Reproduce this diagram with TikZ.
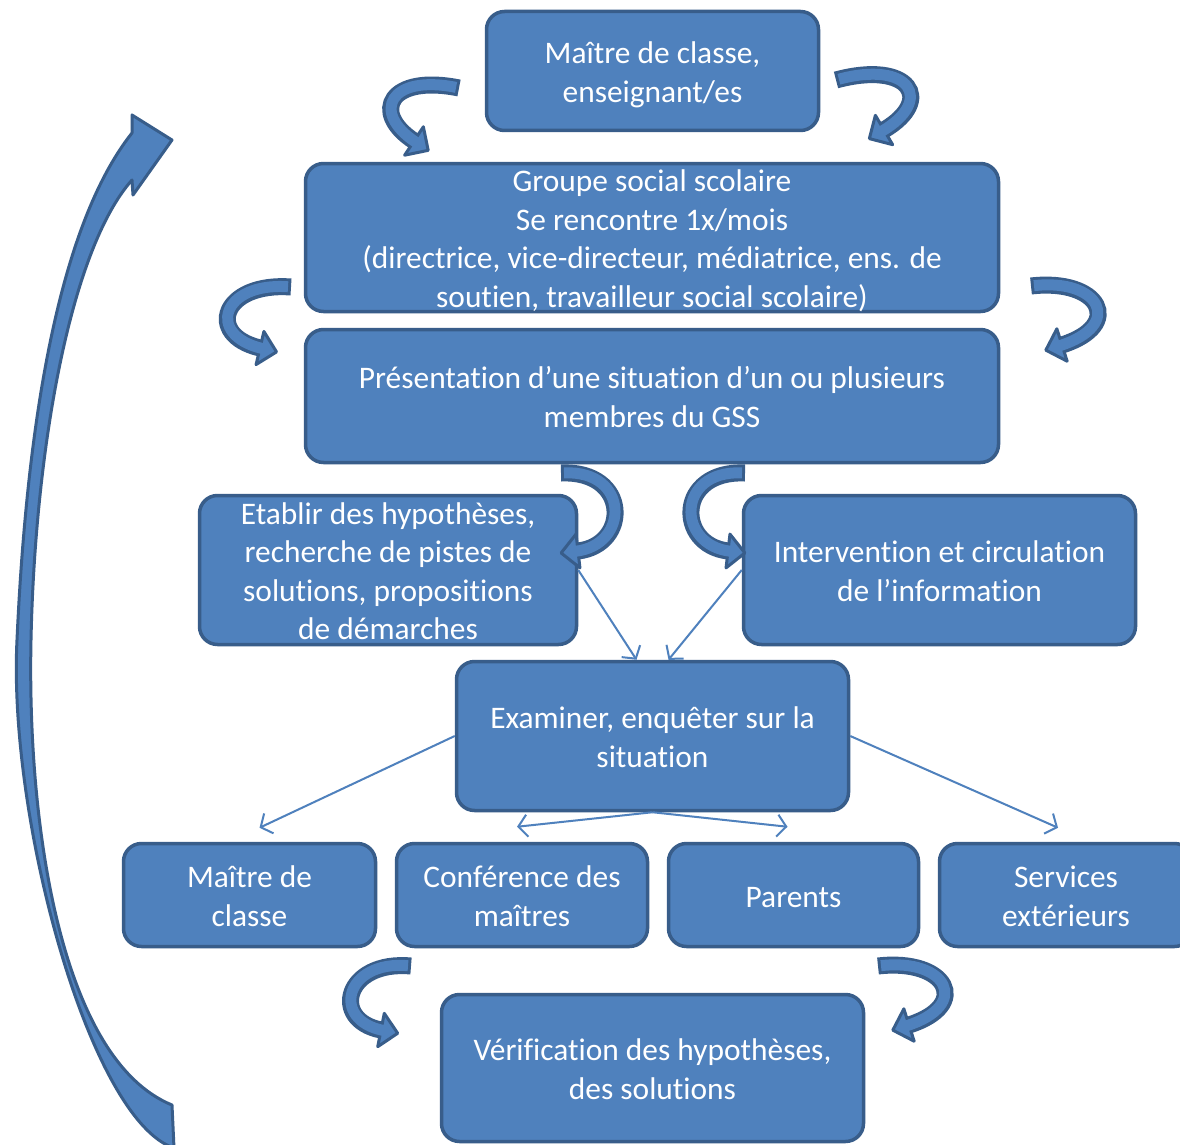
\documentclass[tikz,border=0pt]{standalone}
\usepackage{fontspec}
\setmainfont{Carlito}[Ligatures=NoCommon]
\usetikzlibrary{calc,arrows.meta}
\definecolor{mid}{HTML}{4F81BD}
\definecolor{bdr}{HTML}{385D8A}
\newcommand\nlti{t\kern0pt i}
\newcommand\nlfi{f\kern0pt i}
\newcommand\boxtop{\rule{0pt}{33pt}}
\newcommand\boxbot{\rule[-9pt]{0pt}{0pt}}
\newcommand\carrow[4]{%
  \draw[bdr, line width=17pt] (#1) .. controls (#2) and (#3) .. (#4);
  \filldraw[fill=mid, draw=bdr, line width=3pt, line join=round]
    ($(#4)!17pt!90:(#3)$) -- ($(#4)!-17pt!(#3)$) -- ($(#4)!17pt!-90:(#3)$) -- cycle;
  \draw[mid, line width=11pt, shorten <=3pt, shorten >=-2.5pt] (#1) .. controls (#2) and (#3) .. (#4);
}
\begin{document}
\begin{tikzpicture}[x=1pt,y=-1pt,
  box/.style={rectangle, rounded corners=18pt, draw=bdr, fill=mid, line width=3.5pt,
    text=white, align=center, inner xsep=0pt, inner ysep=-10pt, font=\fontsize{31.4pt}{38.5pt}\selectfont},
  conn/.style={draw=mid, line width=2pt, -{Straight Barb[length=9pt,width=22pt]}}]
\useasboundingbox (0,0) rectangle (1180,1145);
\fill[white] (0,0) rectangle (1180,1145);

\node[box, minimum width=332pt, minimum height=119pt] (mtop) at (652.5,71) {\boxtop Maître de classe,\\enseignant/es\boxbot};
\node[box, minimum width=693pt, minimum height=148pt] (gss) at (652,237.5) {\boxtop Groupe social scolaire\\Se rencontre 1x/mois\\(directrice, vice-directeur, médiatrice, ens. de\\sou\nlti en, travailleur social scolaire)\boxbot};
\node[box, minimum width=693pt, minimum height=133pt] (pres) at (652,396) {\boxtop Présenta\nlti on d’une situa\nlti on d’un ou plusieurs\\membres du GSS\boxbot};
\node[box, minimum width=377pt, minimum height=149pt] (etab) at (388,570) {\boxtop Etablir des hypothèses,\\recherche de pistes de\\solu\nlti ons, proposi\nlti ons\\de démarches\boxbot};
\node[box, minimum width=392pt, minimum height=149pt] (inter) at (939.5,570) {\boxtop Interven\nlti on et circula\nlti on\\de l’informa\nlti on\boxbot};
\node[box, minimum width=392pt, minimum height=149pt] (exam) at (652.5,736) {\boxtop Examiner, enquêter sur la\\situa\nlti on\boxbot};
\node[box, minimum width=252pt, minimum height=103pt] (mc) at (249.5,895) {\boxtop Maître de\\classe\boxbot};
\node[box, minimum width=251pt, minimum height=103pt] (conf) at (522,895) {\boxtop Conférence des\\maîtres\boxbot};
\node[box, minimum width=250pt, minimum height=103pt] (par) at (793.5,895) {\boxtop Parents\boxbot};
\node[box, minimum width=253pt, minimum height=103pt] (serv) at (1066,895) {\boxtop Services\\extérieurs\boxbot};
\node[box, minimum width=422pt, minimum height=147pt] (verif) at (652.5,1068) {\boxtop Véri\nlfi ca\nlti on des hypothèses,\\des solu\nlti ons\boxbot};

% straight connectors
\draw[conn] (etab.east) -- ($(exam.north)+(-16,0)$);
\draw[conn] (inter.west) -- ($(exam.north)+(16,0)$);
\draw[conn] (exam.west) -- ($(mc.north)+(10,-14)$);
\draw[conn] (exam.east) -- ($(serv.north)+(-8,-14)$);
\draw[conn] (exam.south) -- ($(conf.north)+(-5,-15)$);
\draw[conn] (exam.south) -- ($(par.north)+(-6,-15)$);

% curved arrows
\carrow{459,88}{390,74}{370,112}{414,141}
\carrow{836,80}{910,60}{935,100}{884,130}
\carrow{291,287}{222,282}{205,335}{260,348}
\carrow{1031,286}{1100,278}{1125,325}{1062,345}
\carrow{561,473}{630,470}{630,545}{578,551}
\carrow{745,473}{676,470}{676,545}{728,551}
\carrow{411,966}{345,960}{330,1020}{381,1030}
\carrow{878,966}{947,958}{972,1005}{909,1025}

% big return arrow
\filldraw[fill=mid, draw=bdr, line width=3pt, line join=round]
 (172,1105) -- (174,1148) .. controls (90,1120) and (8,820) .. (17,640)
 .. controls (26,440) and (55,230) .. (132,133) -- (132,115) -- (172,140) -- (133,195) -- (132,180)
 .. controls (70,250) and (35,450) .. (31,640) .. controls (27,830) and (62,1060) .. (172,1105) -- cycle;
\end{tikzpicture}
\end{document}
